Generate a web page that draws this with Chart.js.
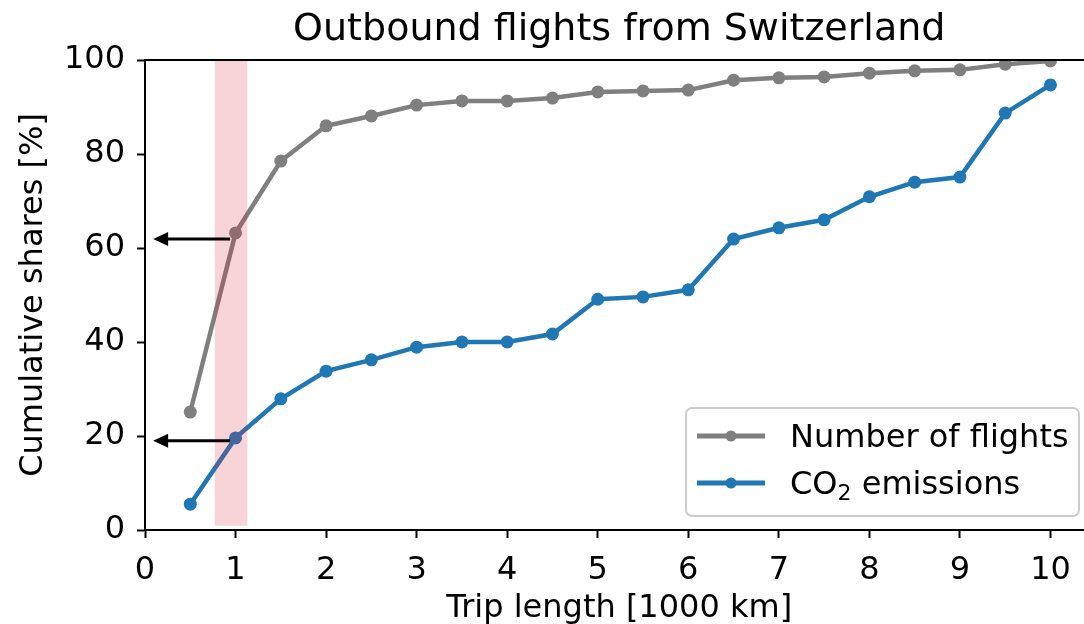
<!DOCTYPE html>
<html>
<head>
<meta charset="utf-8">
<script src="https://cdn.jsdelivr.net/npm/chart.js@4.4.1/dist/chart.umd.min.js"></script>
<style>
  html, body { margin: 0; padding: 0; background: #fff; overflow: hidden; }
  #wrap { width: 1100px; height: 628px; }
</style>
</head>
<body>
<div id="wrap"><canvas id="chart" width="1100" height="628"></canvas></div>
<script>
// ================= DATA =================
const tripLength = [0.5, 1, 1.5, 2, 2.5, 3, 3.5, 4, 4.5, 5, 5.5, 6, 6.5, 7, 7.5, 8, 8.5, 9, 9.5, 10];
const flightShares = [25.1, 63.2, 78.5, 86, 88.1, 90.4, 91.3, 91.3, 91.9, 93.2, 93.4, 93.6, 95.7, 96.2, 96.4, 97.2, 97.7, 97.9, 99.1, 99.8];
const co2Shares = [5.5, 19.6, 27.9, 33.8, 36.2, 38.9, 40, 40, 41.7, 49.1, 49.6, 51.1, 61.9, 64.3, 66, 70.9, 74, 75.1, 88.7, 94.7];
const xTicks = [0, 1, 2, 3, 4, 5, 6, 7, 8, 9, 10];
const yTicks = [0, 20, 40, 60, 80, 100];
const seriesLabels = ["Number of flights", "CO\u2082 emissions"];
const highlightBand = [0.77, 1.13];          // x range of the pink band
const arrowLevels = [61.9, 19];               // y of the arrows
const arrowFromTo = [0.94, 0.09];             // x start / x tip

const FONT = "'DejaVu Sans', sans-serif";
const GREY = "#7f7f7f";
const BLUE = "#1f77b4";

// ================= PLUGINS =================
const titlePlugin = {
  id: "plotTitle",
  afterDraw(chart) {
    const { ctx, chartArea } = chart;
    ctx.save();
    ctx.font = "38px " + FONT;
    ctx.fillStyle = "#000";
    ctx.textAlign = "center";
    ctx.textBaseline = "alphabetic";
    ctx.fillText("Outbound flights from Switzerland", (chartArea.left + chartArea.right) / 2, 40);
    ctx.restore();
  }
};

const bandPlugin = {
  id: "bandAndArrows",
  afterDatasetsDraw(chart) {
    const { ctx, scales } = chart;
    const x = scales.x, y = scales.y;
    ctx.save();
    // pink band drawn over the lines
    ctx.fillStyle = "rgba(214, 39, 60, 0.2)";
    const x0 = x.getPixelForValue(highlightBand[0]);
    const x1 = x.getPixelForValue(highlightBand[1]);
    const yTop = y.getPixelForValue(100);
    const yBot = y.getPixelForValue(0.9);
    ctx.fillRect(x0, yTop, x1 - x0, yBot - yTop);

    // arrows
    ctx.strokeStyle = "#000";
    ctx.fillStyle = "#000";
    ctx.lineWidth = 3;
    arrowLevels.forEach(level => {
      const py = y.getPixelForValue(level);
      const xs = x.getPixelForValue(arrowFromTo[0]);
      const xt = x.getPixelForValue(arrowFromTo[1]);
      ctx.beginPath();
      ctx.moveTo(xs, py);
      ctx.lineTo(xt + 10, py);
      ctx.stroke();
      ctx.beginPath();
      ctx.moveTo(xt, py);
      ctx.lineTo(xt + 15, py - 7);
      ctx.lineTo(xt + 15, py + 7);
      ctx.closePath();
      ctx.fill();
    });
    ctx.restore();
  }
};

const legendPlugin = {
  id: "boxLegend",
  afterDraw(chart) {
    const { ctx } = chart;
    const bx = 686, by = 408, bw = 393, bh = 108, r = 6;
    ctx.save();
    ctx.fillStyle = "rgba(255,255,255,0.8)";
    ctx.strokeStyle = "#cccccc";
    ctx.lineWidth = 2;
    ctx.beginPath();
    ctx.roundRect(bx, by, bw, bh, r);
    ctx.fill();
    ctx.stroke();
    const colors = [GREY, BLUE];
    const rows = [436, 483];
    ctx.textAlign = "left";
    ctx.textBaseline = "alphabetic";
    rows.forEach((ry, i) => {
      ctx.strokeStyle = colors[i];
      ctx.fillStyle = colors[i];
      ctx.lineWidth = 5;
      ctx.beginPath();
      ctx.moveTo(697, ry);
      ctx.lineTo(765, ry);
      ctx.stroke();
      ctx.beginPath();
      ctx.arc(731, ry, 5.5, 0, Math.PI * 2);
      ctx.fill();
      ctx.fillStyle = "#000";
      const base = ry + 11;
      if (i === 1) {
        // CO2 with a real subscript
        ctx.font = "32px " + FONT;
        ctx.fillText("CO", 790, base);
        let w = ctx.measureText("CO").width;
        ctx.font = "22px " + FONT;
        ctx.fillText("2", 790 + w, base + 6);
        w += ctx.measureText("2").width;
        ctx.font = "32px " + FONT;
        ctx.fillText(" emissions", 790 + w, base);
      } else {
        ctx.font = "32px " + FONT;
        ctx.fillText(seriesLabels[i], 790, base);
      }
    });
    ctx.restore();
  }
};

// ================= CHART =================
const ctx = document.getElementById("chart").getContext("2d");

new Chart(ctx, {
  type: "scatter",
  data: {
    datasets: [
      {
        label: seriesLabels[0],
        data: tripLength.map((t, i) => ({ x: t, y: flightShares[i] })),
        showLine: true,
        borderColor: GREY,
        backgroundColor: GREY,
        borderWidth: 4.5,
        pointRadius: 6.5,
        pointBorderWidth: 0,
        pointHoverRadius: 6.5
      },
      {
        label: seriesLabels[1],
        data: tripLength.map((t, i) => ({ x: t, y: co2Shares[i] })),
        showLine: true,
        borderColor: BLUE,
        backgroundColor: BLUE,
        borderWidth: 4.5,
        pointRadius: 6.5,
        pointBorderWidth: 0,
        pointHoverRadius: 6.5
      }
    ]
  },
  options: {
    responsive: false,
    animation: false,
    events: [],
    layout: { padding: { top: 60, right: 6, left: 14, bottom: 0 } },
    plugins: {
      legend: { display: false },
      tooltip: { enabled: false }
    },
    scales: {
      x: {
        type: "linear",
        min: 0,
        max: 10.475,
        afterBuildTicks: scale => { scale.ticks = xTicks.map(v => ({ value: v })); },
        afterFit: scale => { scale.height = 98; },
        grid: { drawOnChartArea: false, drawTicks: true, tickLength: 8, tickWidth: 2, color: "#000" },
        border: { display: true, color: "#000", width: 2 },
        ticks: { color: "#000", font: { family: FONT, size: 32 }, padding: 13, maxRotation: 0 },
        title: { display: true, text: "Trip length [1000 km]", color: "#000", font: { family: FONT, size: 32 }, padding: { top: 2, bottom: 0 } }
      },
      y: {
        min: 0,
        max: 100,
        afterBuildTicks: scale => { scale.ticks = yTicks.map(v => ({ value: v })); },
        afterFit: scale => { scale.width = 131; },
        grid: { drawOnChartArea: false, drawTicks: true, tickLength: 8, tickWidth: 2, color: "#000" },
        border: { display: true, color: "#000", width: 2 },
        ticks: { color: "#000", font: { family: FONT, size: 32 }, padding: 12 },
        title: { display: true, text: "Cumulative shares [%]", color: "#000", font: { family: FONT, size: 32 }, padding: { top: 0, bottom: 4 } }
      }
    }
  },
  plugins: [
    {
      id: "frame",
      afterDraw(chart) {
        const { ctx, chartArea } = chart;
        ctx.save();
        ctx.strokeStyle = "#000";
        ctx.lineWidth = 2;
        ctx.beginPath();
        ctx.moveTo(chartArea.left, chartArea.top);
        ctx.lineTo(chartArea.right, chartArea.top);
        ctx.lineTo(chartArea.right, chartArea.bottom);
        ctx.stroke();
        ctx.restore();
      }
    },
    bandPlugin,
    legendPlugin,
    titlePlugin
  ]
});
</script>
</body>
</html>
